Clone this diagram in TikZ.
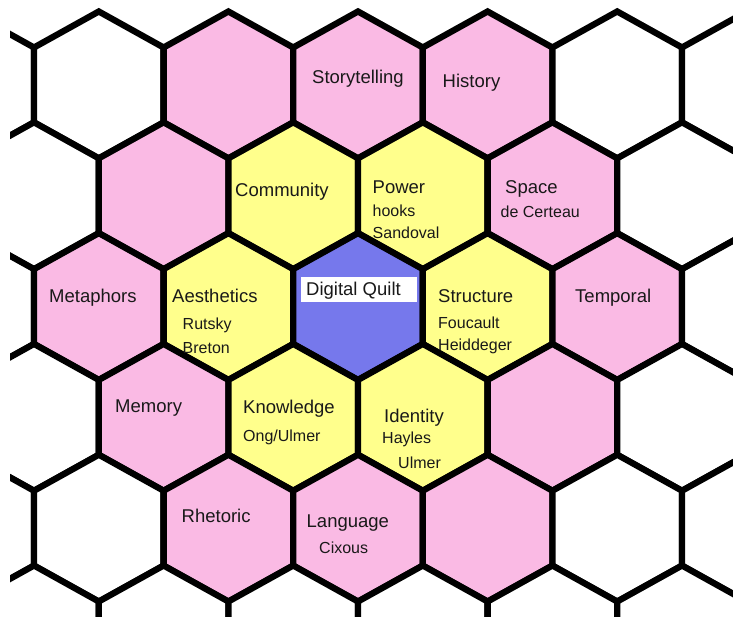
\documentclass[tikz,border=0pt]{standalone}
\usepackage{fontspec}
\setmainfont{Liberation Sans}
\definecolor{qpink}{RGB}{250,186,228}
\definecolor{qyellow}{RGB}{255,255,140}
\definecolor{qblue}{RGB}{118,120,236}
\begin{document}
\begin{tikzpicture}[x=1pt,y=-1pt,
  hexcell/.style={draw=black, line width=6.3pt, line join=miter},
  lbl/.style={anchor=base west, inner sep=0pt, text=black!90, font=\fontsize{18.5}{20}\selectfont},
  sub/.style={anchor=base west, inner sep=0pt, text=black!90, font=\fontsize{16}{18}\selectfont},
  qboxstyle/.style={fill=white, draw=none, inner sep=0pt, minimum width=116pt, minimum height=24.4pt}]
\useasboundingbox (0,0) rectangle (733,617);
\fill[white] (0,0) rectangle (733,617);
\begin{scope}
\clip (10,0) rectangle (733,617);
\foreach \cx/\cy/\col in {
  -30.8/85/white, 98.8/85/white, 228.4/85/qpink, 358/85/qpink, 487.6/85/qpink, 617.2/85/white, 746.8/85/white,
  34/195.8/white, 163.6/195.8/qpink, 293.2/195.8/qyellow, 422.8/195.8/qyellow, 552.4/195.8/qpink, 682/195.8/white,
  -30.8/306.6/white, 98.8/306.6/qpink, 228.4/306.6/qyellow, 358/306.6/qblue, 487.6/306.6/qyellow, 617.2/306.6/qpink, 746.8/306.6/white,
  34/417.4/white, 163.6/417.4/qpink, 293.2/417.4/qyellow, 422.8/417.4/qyellow, 552.4/417.4/qpink, 682/417.4/white,
  -30.8/528.2/white, 98.8/528.2/white, 228.4/528.2/qpink, 358/528.2/qpink, 487.6/528.2/qpink, 617.2/528.2/white, 746.8/528.2/white,
  34/639/white, 163.6/639/white, 293.2/639/white, 422.8/639/white, 552.4/639/white, 682/639/white}
{
  \filldraw[hexcell, fill=\col] (\cx,\cy) +(0,-73.5) -- +(64.8,-37.5) -- +(64.8,37.5) -- +(0,73.5) -- +(-64.8,37.5) -- +(-64.8,-37.5) -- cycle;
}
\end{scope}
% labels
\node[lbl] (story) at (312,84) {Storytelling};
\node[lbl] (hist) at (442.5,88) {History};
\node[lbl] (comm) at (235,197) {Community};
\node[lbl] (power) at (372.5,194) {Power};
\node[sub] (hooks) at (372.5,217) {hooks};
\node[sub] (sando) at (372.5,238.5) {Sandoval};
\node[lbl] (space) at (505,194) {Space};
\node[sub] (certeau) at (500.5,218) {de Certeau};
\node[lbl] (meta) at (49,303) {Metaphors};
\node[lbl] (aest) at (172,303) {Aesthetics};
\node[sub] (rutsky) at (182.5,330) {Rutsky};
\node[sub] (breton) at (182.5,353) {Breton};
\node[qboxstyle] (qbox) at (358.7,289.5) {};
\node[lbl] (quilt) at (306,296) {Digital Quilt};
\node[lbl] (struct) at (438,303) {Structure};
\node[sub] (fouc) at (438,329) {Foucault};
\node[sub] (heid) at (438,350.5) {Heiddeger};
\node[lbl] (temp) at (575,303) {Temporal};
\node[lbl] (memory) at (115,412) {Memory};
\node[lbl] (know) at (243,413.5) {Knowledge};
\node[sub] (ong) at (243,441) {Ong/Ulmer};
\node[lbl] (ident) at (384,422) {Identity};
\node[sub] (hayles) at (382,443.5) {Hayles};
\node[sub] (ulmer) at (398,468) {Ulmer};
\node[lbl] (rhet) at (181.5,522) {Rhetoric};
\node[lbl] (lang) at (306.5,527) {Language};
\node[sub] (cixous) at (319,553) {Cixous};
\end{tikzpicture}
\end{document}
